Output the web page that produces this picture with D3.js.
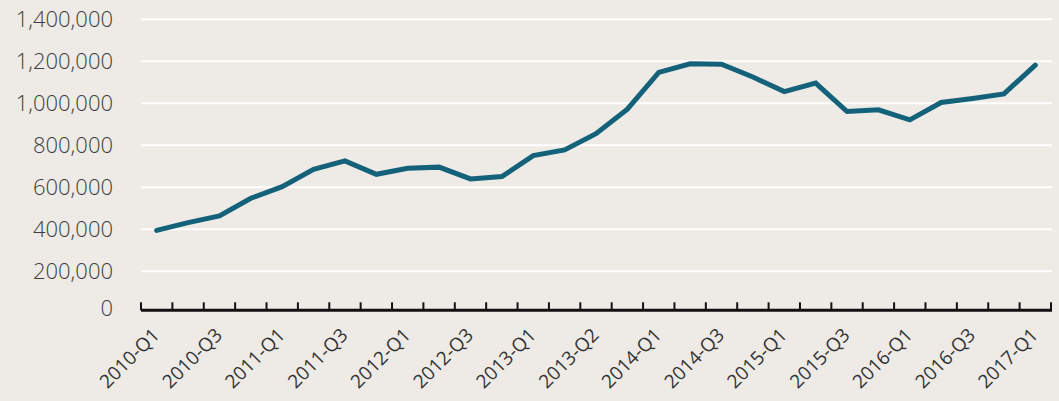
<!DOCTYPE html>
<html>
<head>
    <style>
        body { margin: 0; background: #eeeae6; }
        svg { display: block; }
        .ylab { font: 300 22px "Open Sans", sans-serif; fill: #3d3d3d; text-anchor: end; }
        .xlab { font: 400 19px "Open Sans", sans-serif; fill: #333; text-anchor: end; }
        .grid line { stroke: #fff; stroke-width: 2; }
    </style>
    <script src="https://d3js.org/d3.v7.min.js"></script>
</head>
<body>
    <svg width="1059" height="401"></svg>
    <script>
        // quarters (the reference labels the 15th one "2013-Q2")
        var quarters = ["2010-Q1","2010-Q2","2010-Q3","2010-Q4","2011-Q1","2011-Q2","2011-Q3","2011-Q4",
                        "2012-Q1","2012-Q2","2012-Q3","2012-Q4","2013-Q1","2013-Q2","2013-Q2","2013-Q4",
                        "2014-Q1","2014-Q2","2014-Q3","2014-Q4","2015-Q1","2015-Q2","2015-Q3","2015-Q4",
                        "2016-Q1","2016-Q2","2016-Q3","2016-Q4","2017-Q1"];
        var values = [395000, 432000, 464000, 548000, 603000, 686000, 726000, 662000,
                      691000, 696000, 640000, 651000, 751000, 778000, 855000, 972000,
                      1147000, 1188000, 1186000, 1125000, 1056000, 1096000, 961000, 969000,
                      921000, 1004000, 1023000, 1045000, 1182000];
        var yTicks = [0, 200000, 400000, 600000, 800000, 1000000, 1200000, 1400000];

        var svg = d3.select("svg");

        var x = d3.scaleBand()
                  .domain(d3.range(quarters.length))
                  .range([141, 1051]);

        var y = d3.scaleLinear()
                  .domain([0, 1400000])
                  .range([313.3, 19.3]);

        var fmt = d3.format(",");

        // gridlines
        svg.append("g").attr("class", "grid")
           .selectAll("line")
           .data(yTicks.filter(function(d) { return d > 0; }))
           .enter().append("line")
           .attr("x1", 141).attr("x2", 1052)
           .attr("y1", function(d) { return y(d); })
           .attr("y2", function(d) { return y(d); });

        // y labels
        svg.append("g").selectAll("text")
           .data(yTicks)
           .enter().append("text")
           .attr("class", "ylab")
           .attr("x", 113)
           .attr("y", function(d) { return d === 0 ? y(d) - 5 : y(d); })
           .attr("dy", "0.35em")
           .text(function(d) { return fmt(d); });

        // x axis: ticks on band edges
        var axisY = y(0) - 3;
        var edges = d3.range(quarters.length + 1).map(function(i) {
            return i < quarters.length ? x(i) : x.range()[1];
        });
        svg.append("line")
           .attr("x1", 141).attr("x2", 1052)
           .attr("y1", axisY).attr("y2", axisY)
           .attr("stroke", "#111").attr("stroke-width", 3);
        svg.append("g").selectAll("line")
           .data(edges)
           .enter().append("line")
           .attr("x1", function(d) { return d; })
           .attr("x2", function(d) { return d; })
           .attr("y1", axisY).attr("y2", axisY - 8)
           .attr("stroke", "#111").attr("stroke-width", 2);

        // x labels, every other quarter
        svg.append("g").selectAll("text")
           .data(d3.range(0, quarters.length, 2))
           .enter().append("text")
           .attr("class", "xlab")
           .attr("transform", function(i) {
               return "translate(" + (x(i) + x.bandwidth() / 2 + 4) + "," + (axisY + 26) + ") rotate(-45)";
           })
           .text(function(i) { return quarters[i]; });

        // line
        var line = d3.line()
                     .x(function(d, i) { return x(i) + x.bandwidth() / 2; })
                     .y(function(d) { return y(d); });

        svg.append("path")
           .datum(values)
           .attr("d", line)
           .attr("fill", "none")
           .attr("stroke", "#14627a")
           .attr("stroke-width", 5)
           .attr("stroke-linejoin", "miter")
           .attr("stroke-linecap", "round");
    </script>
</body>
</html>
